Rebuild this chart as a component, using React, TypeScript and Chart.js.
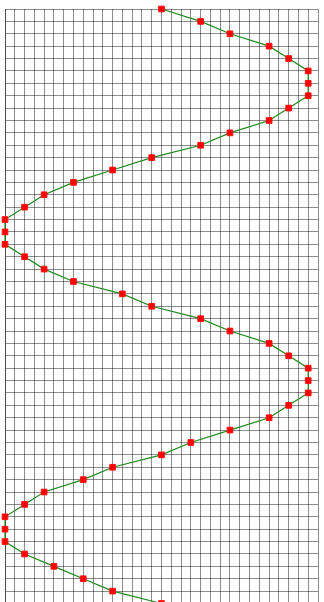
import React, { useEffect, useRef } from "react";
import { Chart, registerables } from "chart.js";

Chart.register(...registerables);

// Horizontal position (x) of each point, listed from top (row 0) to bottom (row 48)
const xValues: number[] = [
  16, 20, 23, 27, 29, 31, 31, 31, 29, 27, 23, 20, 15, 11, 7, 4, 2, 0, 0, 0,
  2, 4, 7, 12, 15, 20, 23, 27, 29, 31, 31, 31, 29, 27, 23, 19, 16, 11, 8, 4,
  2, 0, 0, 0, 2, 5, 8, 11, 16,
];
// Row index of each point
const rowValues: number[] = [
  0, 1, 2, 3, 4, 5, 6, 7, 8, 9, 10, 11, 12, 13, 14, 15, 16, 17, 18, 19,
  20, 21, 22, 23, 24, 25, 26, 27, 28, 29, 30, 31, 32, 33, 34, 35, 36, 37, 38, 39,
  40, 41, 42, 43, 44, 45, 46, 47, 48,
];

const X_MIN = 0;
const X_MAX = 32;
const Y_MIN = 0;
const Y_MAX = 48;

export default function App() {
  const ref = useRef<HTMLCanvasElement | null>(null);

  useEffect(() => {
    if (!ref.current) return;
    const data = xValues.map((x, i) => ({ x, y: rowValues[i] }));
    const gridColor = "rgba(0,0,0,0.45)";
    const chart = new Chart(ref.current, {
      type: "scatter",
      data: {
        datasets: [
          {
            data,
            showLine: true,
            borderColor: "#1a8a1a",
            borderWidth: 1.2,
            pointStyle: "rect",
            pointRadius: 4,
            pointBorderWidth: 1,
            pointBackgroundColor: "#ff0000",
            pointBorderColor: "#ff1010",
            clip: false as any,
          },
        ],
      },
      options: {
        animation: false,
        responsive: false,
        layout: { padding: { left: 4.5, right: 6, top: 9, bottom: 8.5 } },
        plugins: { legend: { display: false }, tooltip: { enabled: false } },
        scales: {
          x: {
            type: "linear",
            min: X_MIN,
            max: X_MAX,
            ticks: { display: false, stepSize: 1, maxTicksLimit: 1000, autoSkip: false },
            grid: { color: gridColor, drawTicks: false, lineWidth: 1 },
            border: { color: gridColor, width: 1 },
          },
          y: {
            type: "linear",
            reverse: true,
            min: Y_MIN,
            max: Y_MAX,
            ticks: { display: false, stepSize: 1, maxTicksLimit: 1000, autoSkip: false },
            grid: { color: gridColor, drawTicks: false, lineWidth: 1 },
            border: { color: gridColor, width: 1 },
          },
        },
      },
    });
    return () => chart.destroy();
  }, []);

  return (
    <div
      style={{
        position: "fixed",
        left: 0,
        top: 0,
        width: 324,
        height: 602,
        overflow: "hidden",
        background: "#fff",
      }}
    >
      <canvas ref={ref} width={324} height={612} style={{ display: "block" }} />
    </div>
  );
}
